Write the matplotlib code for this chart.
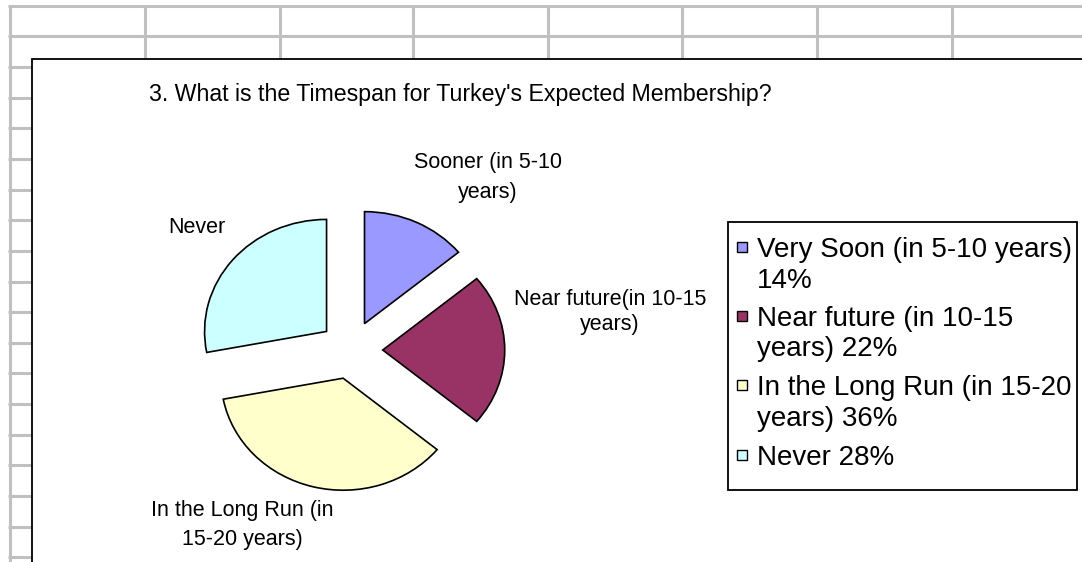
import matplotlib
matplotlib.use("Agg")
import matplotlib.pyplot as plt
from matplotlib.patches import Rectangle

plt.rcParams['font.family'] = ['Liberation Sans', 'DejaVu Sans']

# ---------------- data ----------------
title = "3. What is the Timespan for Turkey's Expected Membership?"
categories = ["Very Soon (in 5-10 years)", "Near future (in 10-15 years)",
              "In the Long Run (in 15-20 years)", "Never"]
values = [14, 22, 36, 28]
colors = ['#9999FF', '#993366', '#FFFFCC', '#CCFFFF']
slice_labels = ["Sooner (in 5-10\nyears)", "Near future(in 10-15\nyears)",
                "In the Long Run (in\n15-20 years)", "Never"]
legend_labels = ["Very Soon (in 5-10 years)\n14%", "Near future (in 10-15\nyears) 22%",
                 "In the Long Run (in 15-20\nyears) 36%", "Never 28%"]

W, H = 1082, 562
fig = plt.figure(figsize=(W / 100, H / 100), dpi=100)
fig.patch.set_facecolor('white')

# background "spreadsheet" layer in pixel coordinates
bg = fig.add_axes([0, 0, 1, 1])
bg.set_xlim(0, W)
bg.set_ylim(H, 0)
bg.axis('off')

grid_c = '#C0C0C0'
chart_x, chart_y = 32, 59
row_lines = [6, 36, 67, 98, 128, 159, 190, 220, 251, 282, 312, 343, 373, 404, 435, 465, 496, 527, 557]
col_lines = [10, 145, 280, 413, 548, 682, 817, 952]
for y in row_lines:
    if y < chart_y:
        bg.plot([8, W], [y, y], color=grid_c, lw=2.2, solid_capstyle='butt', zorder=1)
    else:
        bg.plot([8, chart_x], [y, y], color=grid_c, lw=2.2, solid_capstyle='butt', zorder=1)
bg.plot([10, 10], [5, H], color=grid_c, lw=2.2, solid_capstyle='butt', zorder=1)
for x in col_lines[1:]:
    bg.plot([x, x], [5, chart_y], color=grid_c, lw=2.2, solid_capstyle='butt', zorder=1)

# chart area
bg.add_patch(Rectangle((chart_x, chart_y), W + 50 - chart_x, H + 50 - chart_y,
                       facecolor='white', edgecolor='black', lw=1.3, zorder=2))

# title
bg.text(460, 95, title, ha='center', va='center', fontsize=16.7, color='black', zorder=3)

# ---------------- pie ----------------
cx, cy, rx, ry = 351, 350, 122, 112
lim = 1.4
ax = fig.add_axes([(cx - lim * rx) / W, (H - (cy + lim * ry)) / H,
                   2 * lim * rx / W, 2 * lim * ry / H])
ax.pie(values, colors=colors, startangle=90, counterclock=False,
       explode=[0.26] * len(values),
       wedgeprops=dict(edgecolor='black', linewidth=1.2))
ax.set_aspect('auto')
ax.set_xlim(-lim, lim)
ax.set_ylim(-lim, lim)
ax.axis('off')
ax.patch.set_alpha(0)

# slice labels (pixel positions of line centres)
label_pos = [(488, [160, 190]), (610, [297, 322]), (242, [508, 537]), (197, [225])]
for text, (x, ys) in zip(slice_labels, label_pos):
    for line, y in zip(text.split('\n'), ys):
        bg.text(x, y, line, ha='center', va='center_baseline', fontsize=15.5, zorder=3)

# legend
bg.add_patch(Rectangle((728, 222), 1077 - 728, 490 - 222, facecolor='white',
                       edgecolor='black', lw=1.3, zorder=3))
entry_y = [247, 316, 385, 455]
for lab, col, y0 in zip(legend_labels, colors, entry_y):
    bg.add_patch(Rectangle((737, y0 - 5), 10, 10, facecolor=col, edgecolor='black',
                           lw=1.0, zorder=4))
    for i, line in enumerate(lab.split('\n')):
        bg.text(757, y0 + i * 30.5, line, ha='left', va='center_baseline',
                fontsize=20, zorder=4)

fig.savefig('out.png', dpi=100)
